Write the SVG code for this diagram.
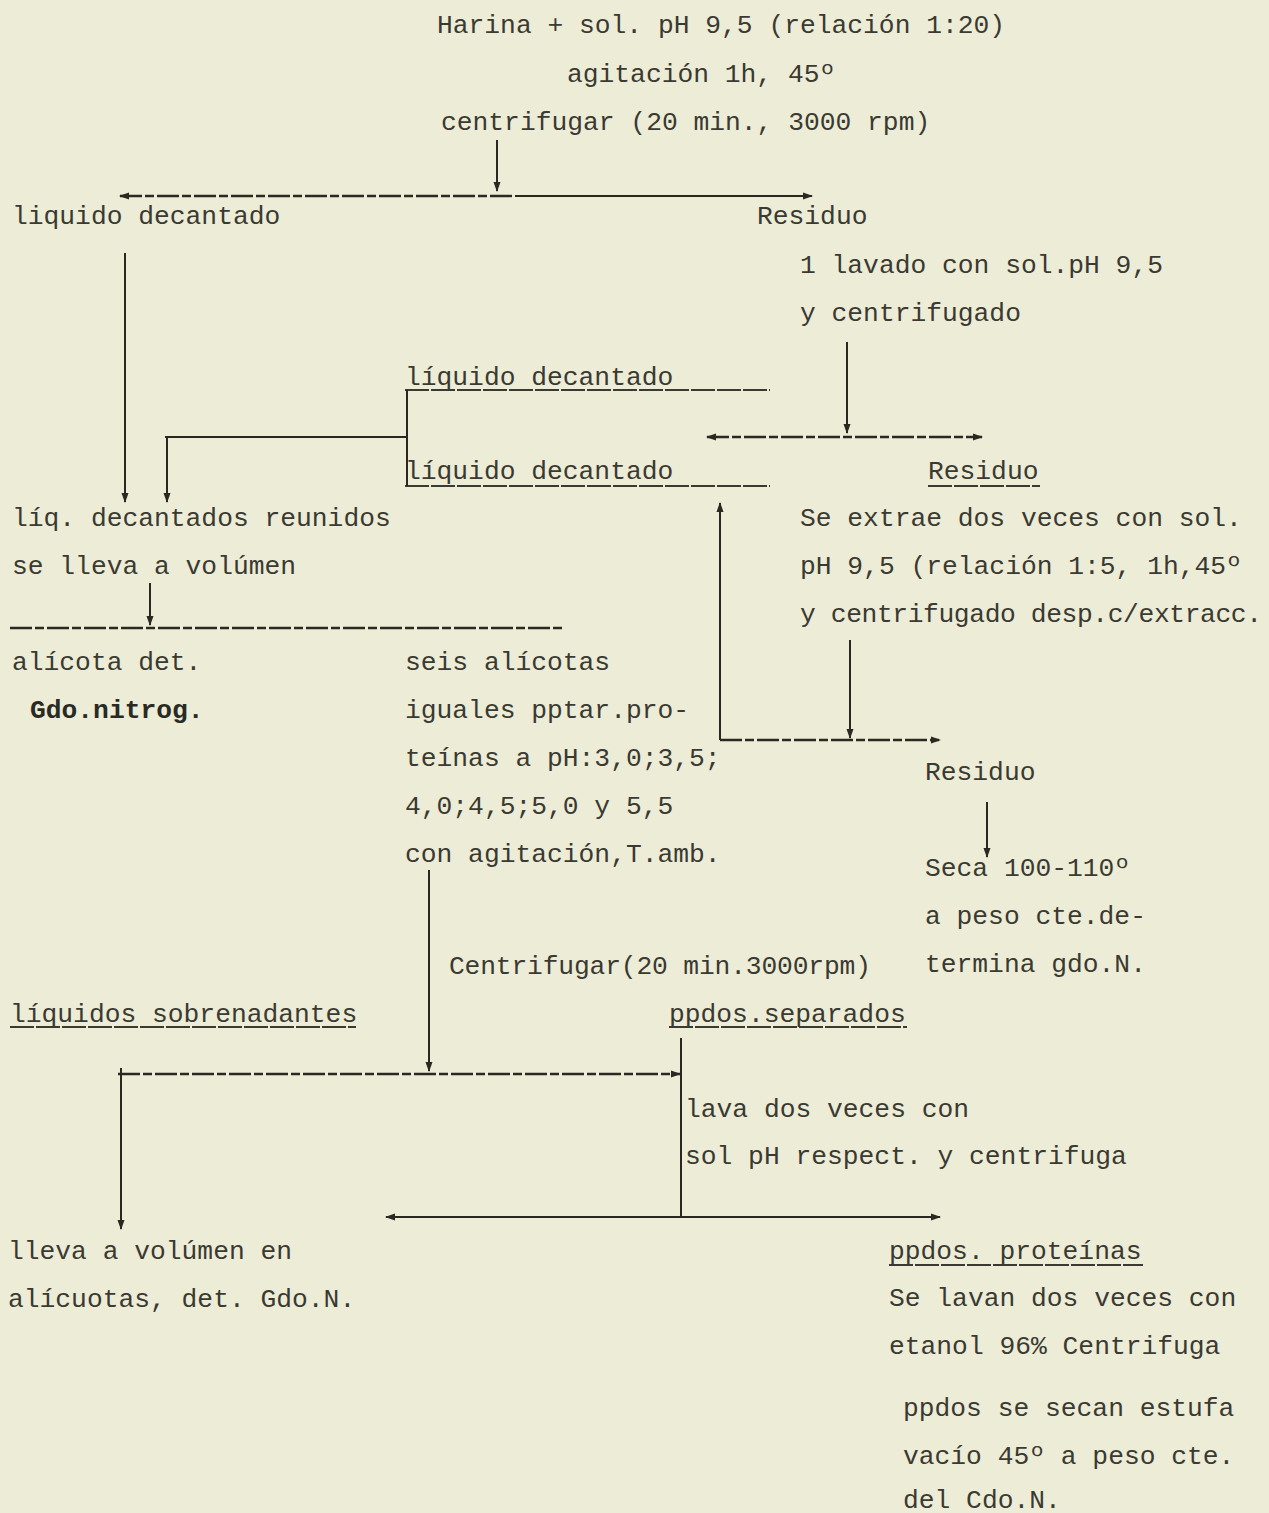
<svg xmlns="http://www.w3.org/2000/svg" width="1269" height="1513" viewBox="0 0 1269 1513">
<style>
text{font-family:"Liberation Mono","DejaVu Sans Mono",monospace;font-size:26.3px;fill:#3a3a32}
.b{font-weight:bold;fill:#2a2a24}
.ln{stroke:#2b2822;stroke-width:2;fill:none}
.dl{stroke:#2b2822;stroke-width:2.4;fill:none;stroke-dasharray:22 3 9 3}
.ul{stroke:#3a3a32;stroke-width:2;fill:none;stroke-dasharray:24 2}
</style>
<defs>
<marker id="ah" viewBox="0 0 10 8" refX="9" refY="4" markerWidth="10" markerHeight="8" markerUnits="userSpaceOnUse" orient="auto-start-reverse">
<path d="M0,0.5 L10,4 L0,7.5 Z" fill="#2b2822"/>
</marker>
</defs>
<rect width="1269" height="1513" fill="#edecd7"/>

<g id="connectors">
<line class="ln" x1="497" y1="140" x2="497" y2="191" marker-end="url(#ah)"/>
<line class="dl" x1="120" y1="196" x2="515" y2="196" marker-start="url(#ah)"/>
<line class="ln" x1="515" y1="196" x2="812" y2="196" stroke-width="2.6" marker-end="url(#ah)"/>
<line class="ln" x1="125" y1="253" x2="125" y2="502" marker-end="url(#ah)"/>
<line class="ln" x1="847" y1="342" x2="847" y2="433" marker-end="url(#ah)"/>
<line class="dl" x1="707" y1="437" x2="982" y2="437" marker-start="url(#ah)" marker-end="url(#ah)"/>
<line class="ul" x1="405" y1="390" x2="770" y2="390"/>
<line class="ul" x1="405" y1="486" x2="770" y2="486"/>
<line class="ln" x1="407" y1="390" x2="407" y2="486"/>
<line class="ln" x1="165" y1="437" x2="407" y2="437"/>
<line class="ln" x1="167" y1="437" x2="167" y2="502" marker-end="url(#ah)"/>
<line class="ln" x1="720" y1="740" x2="720" y2="503" marker-end="url(#ah)"/>
<line class="dl" x1="720" y1="740" x2="940" y2="740" marker-end="url(#ah)"/>
<line class="ln" x1="850" y1="640" x2="850" y2="738" marker-end="url(#ah)"/>
<line class="ln" x1="150" y1="583" x2="150" y2="625" marker-end="url(#ah)"/>
<line class="dl" x1="10" y1="628" x2="562" y2="628"/>
<line class="ln" x1="987" y1="802" x2="987" y2="857" marker-end="url(#ah)"/>
<line class="ln" x1="429" y1="870" x2="429" y2="1071" marker-end="url(#ah)"/>
<line class="dl" x1="118" y1="1074" x2="680" y2="1074" marker-end="url(#ah)"/>
<line class="ln" x1="681" y1="1038" x2="681" y2="1218"/>
<line class="ln" x1="121" y1="1068" x2="121" y2="1229" marker-end="url(#ah)"/>
<line class="ln" x1="386" y1="1217" x2="940" y2="1217" stroke-width="2.6" marker-start="url(#ah)" marker-end="url(#ah)"/>
<line class="ul" x1="928" y1="486" x2="1040" y2="486"/>
<line class="ul" x1="10" y1="1027" x2="356" y2="1027"/>
<line class="ul" x1="669" y1="1027" x2="907" y2="1027"/>
<line class="ul" x1="889" y1="1265" x2="1143" y2="1265"/>
</g>

<g id="n-inicio">
<text x="437" y="33">Harina + sol. pH 9,5 (relación 1:20)</text>
<text x="567" y="82">agitación 1h, 45º</text>
<text x="441" y="130">centrifugar (20 min., 3000 rpm)</text>
</g>
<g id="n-liquido1"><text x="12" y="224">liquido decantado</text></g>
<g id="n-residuo1">
<text x="757" y="224">Residuo</text>
<text x="800" y="273">1 lavado con sol.pH 9,5</text>
<text x="800" y="321">y centrifugado</text>
</g>
<g id="n-liquido2"><text x="405" y="385">líquido decantado</text></g>
<g id="n-liquido3"><text x="405" y="479">líquido decantado</text></g>
<g id="n-residuo2">
<text x="928" y="479">Residuo</text>
<text x="800" y="526">Se extrae dos veces con sol.</text>
<text x="800" y="574">pH 9,5 (relación 1:5, 1h,45º</text>
<text x="800" y="622" textLength="462">y centrifugado desp.c/extracc.</text>
</g>
<g id="n-reunidos">
<text x="12" y="526">líq. decantados reunidos</text>
<text x="12" y="574">se lleva a volúmen</text>
</g>
<g id="n-alicota">
<text x="12" y="670">alícota det.</text>
<text x="30" y="718" class="b">Gdo.nitrog.</text>
</g>
<g id="n-seis">
<text x="405" y="670">seis alícotas</text>
<text x="405" y="718">iguales pptar.pro-</text>
<text x="405" y="766">teínas a pH:3,0;3,5;</text>
<text x="405" y="814">4,0;4,5;5,0 y 5,5</text>
<text x="405" y="862">con agitación,T.amb.</text>
</g>
<g id="n-residuo3"><text x="925" y="780">Residuo</text></g>
<g id="n-seca">
<text x="925" y="876">Seca 100-110º</text>
<text x="925" y="924">a peso cte.de-</text>
<text x="925" y="972">termina gdo.N.</text>
</g>
<g id="n-centrifugar"><text x="449" y="974" textLength="422">Centrifugar(20 min.3000rpm)</text></g>
<g id="n-sobrenadantes"><text x="10" y="1022">líquidos sobrenadantes</text></g>
<g id="n-separados">
<text x="669" y="1022">ppdos.separados</text>
<text x="685" y="1117">lava dos veces con</text>
<text x="685" y="1164">sol pH respect. y centrifuga</text>
</g>
<g id="n-volumen">
<text x="8" y="1259">lleva a volúmen en</text>
<text x="8" y="1307">alícuotas, det. Gdo.N.</text>
</g>
<g id="n-proteinas">
<text x="889" y="1259">ppdos. proteínas</text>
<text x="889" y="1306">Se lavan dos veces con</text>
<text x="889" y="1354">etanol 96% Centrifuga</text>
<text x="903" y="1416">ppdos se secan estufa</text>
<text x="903" y="1464">vacío 45º a peso cte.</text>
<text x="903" y="1508">del Cdo.N.</text>
</g>
</svg>
